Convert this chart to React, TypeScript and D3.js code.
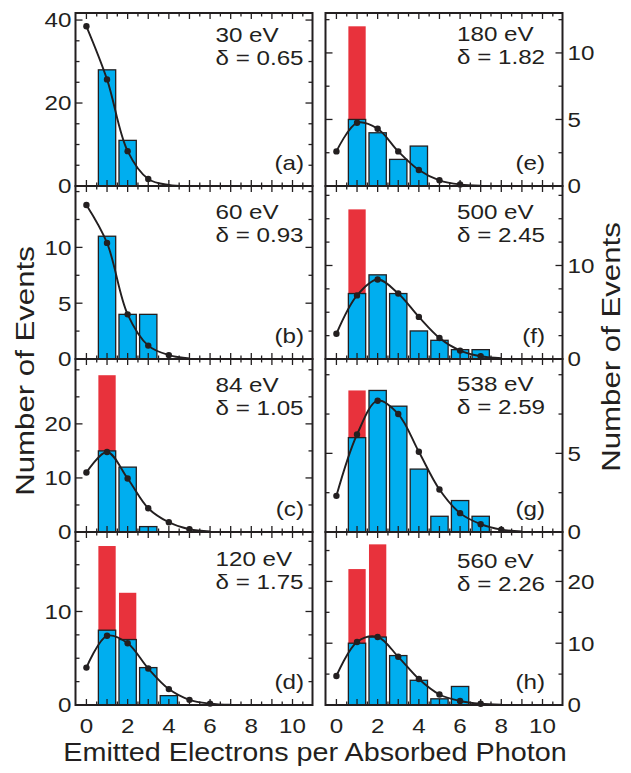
import React from "react";
import * as d3 from "d3";

// ---------- data ----------
const panelLetters = ["a", "b", "c", "d", "e", "f", "g", "h"];
const energies = ["30 eV", "60 eV", "84 eV", "120 eV", "180 eV", "500 eV", "538 eV", "560 eV"];
const deltas = ["0.65", "0.93", "1.05", "1.75", "1.82", "2.45", "2.59", "2.26"];

// measured events (blue), index 0 -> 1 electron
const blueA = [28, 11];
const blueB = [11, 4, 4];
const blueC = [15, 12, 1];
const blueD = [8, 7, 4, 1];
const blueE = [5, 4, 2, 3];
const blueF = [7, 9, 7, 3, 2, 1, 1];
const blueG = [6, 9, 8, 4, 1, 2, 1];
const blueH = [10, 11, 8, 4, 1, 3];

// red (uncorrected totals), index 0 -> 1 electron, 0 = none
const redA: number[] = [];
const redB: number[] = [];
const redC = [29];
const redD = [17, 12];
const redE = [12];
const redF = [16];
const redG = [9];
const redH = [22, 26];

// fitted curve values, index 0 -> 0 electrons
const fitA = [38.5, 25.7, 8.4, 1.7, 0.25, 0.03];
const fitB = [13.8, 10.4, 4.0, 1.2, 0.35, 0.05];
const fitC = [11, 14.8, 9.9, 4.4, 1.8, 0.5, 0.1];
const fitD = [4.0, 7.4, 6.6, 3.9, 1.7, 0.55, 0.15, 0.03];
const fitE = [2.6, 4.75, 4.3, 2.6, 1.2, 0.43, 0.12, 0.03];
const fitF = [2.7, 6.8, 8.5, 7.0, 4.5, 2.25, 0.9, 0.3, 0.08];
const fitG = [2.3, 6.2, 8.35, 7.5, 5.1, 2.7, 1.2, 0.5, 0.15, 0.04];
const fitH = [4.7, 10.2, 11, 7.8, 4.2, 1.7, 0.65, 0.2, 0.05];
const dotCounts = [4, 5, 6, 7, 7, 8, 9, 8];

// y axes
const yMax = [41.7, 15.5, 32, 18.5, 13, 18.5, 11, 28];
const yStep = [5, 2.5, 5, 2.5, 2.5, 2.5, 2.5, 5];
const yLabelsA = [0, 20, 40];
const yLabelsB = [0, 5, 10];
const yLabelsC = [0, 10, 20];
const yLabelsD = [0, 10];
const yLabelsE = [0, 5, 10];
const yLabelsF = [0, 10];
const yLabelsG = [0, 5];
const yLabelsH = [0, 10, 20];
const xTickLabels = [0, 2, 4, 6, 8, 10];

const blues = [blueA, blueB, blueC, blueD, blueE, blueF, blueG, blueH];
const reds = [redA, redB, redC, redD, redE, redF, redG, redH];
const fits = [fitA, fitB, fitC, fitD, fitE, fitF, fitG, fitH];
const yLabels = [yLabelsA, yLabelsB, yLabelsC, yLabelsD, yLabelsE, yLabelsF, yLabelsG, yLabelsH];

// ---------- layout ----------
const W = 631;
const H = 773;
const colLeft = [75.5, 325.5];
const colW = 237;
const rowTop = [13, 186, 359, 532];
const rowH = 173;
const annotDx = [140, 131.5];
const letterDx = [8.5, 17.5];
const line1Dy = [28.5, 33, 33, 34, 27.5, 33, 32, 36];
const lineGap = 23;

const INK = "#231f20";
const BLUE = "#00aeef";
const RED = "#e8323c";
const FONT = "'Liberation Sans', Arial, Helvetica, sans-serif";
const SX = 1.18;
const FS = 20.5;

function SText({ x, y, children, size = FS, anchor = "start", rotate = 0, sx = SX, dy = "0" }: any) {
  return (
    <g transform={`translate(${x},${y}) rotate(${rotate}) scale(${sx},1)`}>
      <text x={0} y={0} dy={dy} fontSize={size} fontFamily={FONT} fill={INK} textAnchor={anchor}>
        {children}
      </text>
    </g>
  );
}

function Panel({ i }: { i: number }) {
  const col = i < 4 ? 0 : 1;
  const row = i % 4;
  const L = colLeft[col];
  const R = L + colW;
  const T = rowTop[row];
  const B = T + rowH;
  const x = d3.scaleLinear().domain([-0.53, 10.97]).range([L, R]);
  const y = d3.scaleLinear().domain([0, yMax[i]]).range([B, T]);
  const bw = 0.42;

  const fit = fits[i];
  const line = d3
    .line<number>()
    .x((_, k) => x(k))
    .y((v) => y(v))
    .curve(d3.curveCatmullRom.alpha(0.5));

  const xTicks = d3.range(0, 10.51, 0.5);
  const yTicks = d3.range(0, yMax[i] + 0.001, yStep[i]);
  const clipId = `clip${i}`;

  return (
    <g>
      <defs>
        <clipPath id={clipId}>
          <rect x={L} y={T} width={colW} height={rowH} />
        </clipPath>
      </defs>
      {reds[i].map((v, k) =>
        v > 0 ? (
          <rect key={`r${k}`} x={x(k + 1 - bw)} y={y(v)} width={x(k + 1 + bw) - x(k + 1 - bw)} height={B - y(v)} fill={RED} />
        ) : null
      )}
      {blues[i].map((v, k) => (
        <rect
          key={`b${k}`}
          x={x(k + 1 - bw)}
          y={y(v)}
          width={x(k + 1 + bw) - x(k + 1 - bw)}
          height={B - y(v)}
          fill={BLUE}
          stroke={INK}
          strokeWidth={1.3}
        />
      ))}
      <g clipPath={`url(#${clipId})`}>
        <path d={line(fit) || ""} fill="none" stroke={INK} strokeWidth={1.9} />
      </g>
      {fit.slice(0, dotCounts[i]).map((v, k) => (
        <circle key={`d${k}`} cx={x(k)} cy={y(v)} r={3.2} fill={INK} />
      ))}
      {xTicks.map((t) => {
        const len = Number.isInteger(t) ? 6 : 3.5;
        return (
          <g key={`xt${t}`} stroke={INK} strokeWidth={1.3}>
            <line x1={x(t)} x2={x(t)} y1={B} y2={B - len} />
            <line x1={x(t)} x2={x(t)} y1={T} y2={T + len} />
          </g>
        );
      })}
      {yTicks.map((t) => {
        const major = yLabels[i].includes(t);
        const len = major ? 7 : 4;
        return (
          <g key={`yt${t}`} stroke={INK} strokeWidth={1.3}>
            <line x1={L} x2={L + len} y1={y(t)} y2={y(t)} />
            <line x1={R} x2={R - len} y1={y(t)} y2={y(t)} />
          </g>
        );
      })}
      <rect x={L} y={T} width={colW} height={rowH} fill="none" stroke={INK} strokeWidth={2} />
      {yLabels[i].map((t) =>
        col === 0 ? (
          <SText key={`yl${t}`} x={L - 4} y={y(t)} anchor="end" dy="0.36em">
            {t}
          </SText>
        ) : (
          <SText key={`yl${t}`} x={R + 5} y={y(t)} anchor="start" dy="0.36em">
            {t}
          </SText>
        )
      )}
      <SText x={L + annotDx[col]} y={T + line1Dy[i]}>
        {energies[i]}
      </SText>
      <SText x={L + annotDx[col]} y={T + line1Dy[i] + lineGap}>
        {`δ = ${deltas[i]}`}
      </SText>
      <SText x={R - letterDx[col]} y={B - 16} anchor="end">
        {`(${panelLetters[i]})`}
      </SText>
      {row === 3 &&
        xTickLabels.map((t) => (
          <SText key={`xl${t}`} x={x(t)} y={733} anchor="middle">
            {t}
          </SText>
        ))}
    </g>
  );
}

export default function App() {
  return (
    <svg width={W} height={H} viewBox={`0 0 ${W} ${H}`} style={{ display: "block", position: "absolute", left: 0, top: 0, background: "#fff" }}>
      <rect x={0} y={0} width={W} height={H} fill="#fff" />
      {d3.range(8).map((i) => (
        <Panel key={i} i={i} />
      ))}
      <SText x={34} y={371} size={26} anchor="middle" rotate={-90} sx={1.2}>
        Number of Events
      </SText>
      <SText x={620} y={347} size={26} anchor="middle" rotate={-90} sx={1.2}>
        Number of Events
      </SText>
      <SText x={315} y={761} size={25} anchor="middle" sx={1.15}>
        Emitted Electrons per Absorbed Photon
      </SText>
    </svg>
  );
}
